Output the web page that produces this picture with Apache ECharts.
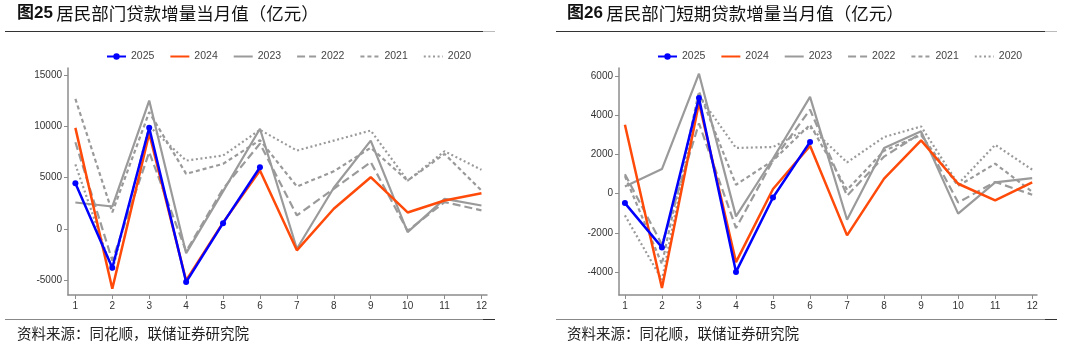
<!DOCTYPE html>
<html><head><meta charset="utf-8">
<script src="https://cdn.jsdelivr.net/npm/echarts@6/dist/echarts.min.js"></script>
<style>
body{margin:0;background:#fff}
#l{position:absolute;left:0;top:0;width:540px;height:348px}
#r{position:absolute;left:540px;top:0;width:526px;height:348px}
</style>
</head><body><div id="l"></div><div id="r"></div>
<script>
const months = [1,2,3,4,5,6,7,8,9,10,11,12];
const years = ['2025','2024','2023','2022','2021','2020'];

// 图25 居民部门贷款增量当月值（亿元）
const total2025 = [4450, -3800, 9850, -5200, 550, 6000];
const total2024 = [9840, -5850, 9300, -5050, 600, 5680, -2100, 1950, 5030, 1590, 2760, 3470];
const total2023 = [2560, 2170, 12500, -2380, 3650, 9750, -1950, 4000, 8600, -330, 2920, 2270];
const total2022 = [8440, -3100, 7470, -2200, 3900, 8300, 1300, 3900, 6500, -200, 2600, 1800];
const total2021 = [12670, 1600, 11370, 5360, 6330, 8650, 4120, 5600, 7900, 4700, 7300, 3730];
const total2020 = [6270, -4100, 10000, 6650, 7140, 9650, 7630, 8600, 9580, 4700, 7560, 5750];
const totalTicks = [-5000, 0, 5000, 10000, 15000];

// 图26 居民部门短期贷款增量当月值（亿元）
const short2025 = [-480, -2745, 4900, -4000, -190, 2650];
const short2024 = [3530, -4820, 4650, -3500, 240, 2450, -2130, 770, 2730, 510, -340, 580];
const short2023 = [375, 1260, 6140, -1160, 1800, 4950, -1330, 2340, 3190, -1020, 580, 800];
const short2022 = [1000, -2600, 3600, -1755, 1700, 4300, -100, 1900, 3100, -450, 600, -50];
const short2021 = [900, -3600, 5230, 460, 1700, 3530, 200, 2200, 3000, 400, 1535, 100];
const short2020 = [-1110, -4400, 5000, 2340, 2390, 3400, 1600, 2900, 3440, 500, 2500, 1230];
const shortTicks = [-4000, -2000, 0, 2000, 4000, 6000];

const styles = {
  '2025': {color:'#0000ff', width:2.5, type:'solid', symbol:'circle'},
  '2024': {color:'#ff4a0a', width:2.5, type:'solid'},
  '2023': {color:'#9a9a9a', width:2.2, type:'solid'},
  '2022': {color:'#9a9a9a', width:2.2, type:[8,4]},
  '2021': {color:'#9a9a9a', width:2.2, type:[4,3]},
  '2020': {color:'#9a9a9a', width:2.2, type:[2,2.6]}
};

function mkSeries(name, arr){
  const s = styles[name];
  return {
    name, type:'line', data: arr.map((v,i)=>[months[i], v]),
    symbol: s.symbol || 'none', symbolSize: 6, showSymbol: !!s.symbol,
    itemStyle:{color:s.color},
    lineStyle:{color:s.color, width:s.width, type:s.type},
    z: name==='2025'?10:(name==='2024'?9:2),
    animation:false
  };
}

function mkOption(cfg){
  const axisColor = '#8c8c8c';
  return {
    animation:false,
    textStyle:{fontFamily:'Liberation Sans, Arial, sans-serif'},
    legend:{
      data: years.map(y => styles[y].symbol ? {name:y} : {name:y, itemStyle:{opacity:0}}),
      left: cfg.legendLeft, top: 51, padding: 0,
      itemWidth: 19, itemHeight: 8, itemGap: 15,
      textStyle:{fontSize:10.5, color:'#444', fontFamily:'Liberation Sans, Arial, sans-serif'}
    },
    grid:{left:cfg.gl, right:cfg.gr, top:68, bottom:53, containLabel:false},
    xAxis:{
      type:'value', min:cfg.xmin, max:cfg.xmax,
      axisLine:{show:true, onZero:false, lineStyle:{color:axisColor, width:1.5}},
      axisTick:{show:true, length:4, customValues:months, lineStyle:{color:axisColor}},
      axisLabel:{customValues:months, fontSize:10, color:'#333', margin:6},
      splitLine:{show:false}
    },
    yAxis:{
      type:'value', min:cfg.ymin, max:cfg.ymax,
      axisLine:{show:true, lineStyle:{color:axisColor, width:1.5}},
      axisTick:{show:true, length:4, customValues:cfg.ticks, lineStyle:{color:axisColor}},
      axisLabel:{customValues:cfg.ticks, fontSize:10, color:'#333', margin:6, formatter: v => String(v)},
      splitLine:{show:false}
    },
    graphic:[
      {type:'text', left: cfg.titleX, top: 5, style:{
        text:'{a|'+cfg.fig+'} {b|'+cfg.title+'}',
        rich:{
          a:{fontSize:17, fontWeight:'bold', fill:'#111', fontFamily:'Liberation Sans, Noto Sans CJK SC, sans-serif'},
          b:{fontSize:17.5, fontWeight:'normal', fill:'#111', fontFamily:'Noto Sans CJK SC, sans-serif'}
        }}},
      {type:'line', shape:{x1:cfg.lineX1, y1:31.5, x2:cfg.lineX2, y2:31.5}, style:{stroke:'#333', lineWidth:1}},
      {type:'line', shape:{x1:cfg.lineX2, y1:31.5, x2:cfg.lineX2+12, y2:31.5}, style:{stroke:'#bbb', lineWidth:1}},
      {type:'line', shape:{x1:cfg.lineX1, y1:319.5, x2:cfg.lineX2, y2:319.5}, style:{stroke:'#888', lineWidth:1}},
      {type:'line', shape:{x1:cfg.lineX2, y1:319.5, x2:cfg.lineX2+12, y2:319.5}, style:{stroke:'#333', lineWidth:1}},
      {type:'text', left: cfg.titleX, top: 326, style:{text:'资料来源：同花顺，联储证券研究院', fontSize:14.5, fill:'#222', fontFamily:'Noto Sans CJK SC, sans-serif'}}
    ],
    series: cfg.series
  };
}

const left = echarts.init(document.getElementById('l'));
left.setOption(mkOption({
  fig:'图25', title:'居民部门贷款增量当月值（亿元）', titleX:17, lineX1:5, lineX2:483,
  legendLeft:106, gl:68, gr:53, xmin:0.8, xmax:12.15, ymin:-6460, ymax:15680, ticks: totalTicks,
  series:[
    mkSeries('2020', total2020), mkSeries('2021', total2021), mkSeries('2022', total2022),
    mkSeries('2023', total2023), mkSeries('2024', total2024), mkSeries('2025', total2025)
  ]
}));

const right = echarts.init(document.getElementById('r'));
right.setOption(mkOption({
  fig:'图26', title:'居民部门短期贷款增量当月值（亿元）', titleX:27, lineX1:16, lineX2:505,
  legendLeft:117, gl:79, gr:29, xmin:0.84, xmax:12.13, ymin:-5180, ymax:6430, ticks: shortTicks,
  series:[
    mkSeries('2020', short2020), mkSeries('2021', short2021), mkSeries('2022', short2022),
    mkSeries('2023', short2023), mkSeries('2024', short2024), mkSeries('2025', short2025)
  ]
}));
</script>
</body></html>
